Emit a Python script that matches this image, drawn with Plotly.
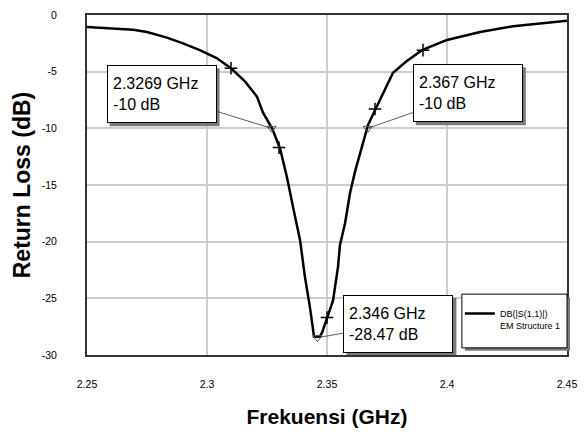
import plotly.graph_objects as go

# ---- data ----
freq_ghz = [2.2500, 2.2600, 2.2692, 2.2750, 2.2833, 2.2900, 2.2970, 2.3040, 2.3100,
            2.3160, 2.3208, 2.3233, 2.3271, 2.3304, 2.3333, 2.3358, 2.3388, 2.3408,
            2.3429, 2.3446, 2.3470, 2.3480, 2.3500, 2.3525, 2.3546, 2.3554, 2.3575,
            2.3596, 2.3617, 2.3638, 2.3671, 2.3700, 2.3721, 2.3775, 2.3830, 2.3896,
            2.4000, 2.4138, 2.4275, 2.4500]
s11_db = [-1.05, -1.15, -1.3, -1.5, -2.0, -2.5, -3.1, -3.8, -4.7,
          -5.9, -7.2, -8.6, -10.0, -11.75, -14.3, -16.9, -19.9, -23.1,
          -25.8, -28.4, -28.4, -28.0, -26.7, -25.2, -22.2, -20.3, -18.4,
          -15.7, -13.8, -12.2, -9.7, -8.4, -7.5, -5.1, -4.1, -3.1,
          -2.2, -1.5, -1.0, -0.5]

sample_freq = [2.31, 2.33, 2.35, 2.37, 2.39]
sample_db = [-4.7, -11.7, -26.7, -8.3, -3.1]

marker_freq = [2.3269, 2.367, 2.346]
marker_db = [-10.0, -10.0, -28.47]
marker_text = ["2.3269 GHz<br>-10 dB", "2.367 GHz<br>-10 dB", "2.346 GHz<br>-28.47 dB"]

x_tickvals = [2.25, 2.3, 2.35, 2.4, 2.45]
x_ticktext = ["2.25", "2.3", "2.35", "2.4", "2.45"]
y_tickvals = [0, -5, -10, -15, -20, -25, -30]
y_ticktext = ["0", "-5", "-10", "-15", "-20", "-25", "-30"]

series_name = "DB(|S(1,1)|)<br>EM Structure 1"

SANS = "Liberation Sans, Arial, sans-serif"

fig = go.Figure()
fig.add_trace(go.Scatter(x=freq_ghz, y=s11_db, mode="lines",
                         line=dict(color="black", width=2.5),
                         name=series_name, showlegend=True))
fig.add_trace(go.Scatter(x=sample_freq, y=sample_db, mode="markers",
                         marker=dict(symbol="cross-thin", size=9,
                                     line=dict(color="black", width=1.5)),
                         showlegend=False, hoverinfo="skip"))
fig.add_trace(go.Scatter(x=marker_freq, y=marker_db, mode="markers",
                         marker=dict(symbol="triangle-down-open", size=8, color="#555",
                                     line=dict(width=1)),
                         showlegend=False, hoverinfo="skip"))

BOX_W, BOX_H, PAD = 98, 46, 5
FULL_W, FULL_H = BOX_W + 2 * PAD + 2, BOX_H + 2 * PAD + 2
offsets = [(-110, -34), (100, -35), (81, -14)]
for fx, fy, txt, (ax, ay) in zip(marker_freq, marker_db, marker_text, offsets):
    # drop shadow, sized to the box, placed in pixels relative to the marked point
    fig.add_shape(type="rect", xref="x", yref="y", xsizemode="pixel", ysizemode="pixel",
                  xanchor=fx, yanchor=fy,
                  x0=ax - FULL_W / 2 + 3, x1=ax + FULL_W / 2 + 3,
                  y0=-(ay + FULL_H / 2) - 3, y1=-(ay - FULL_H / 2) - 3,
                  fillcolor="#7a7a7a", line=dict(width=0), layer="above")
    fig.add_annotation(x=fx, y=fy, text=txt, showarrow=True, ax=ax, ay=ay,
                       width=BOX_W, height=BOX_H, align="left", valign="middle",
                       arrowhead=0, arrowwidth=0.8, arrowcolor="#333",
                       font=dict(family=SANS, size=16, color="black"),
                       bgcolor="white", bordercolor="black", borderwidth=1, borderpad=PAD)

# legend frame (paper coords relative to the plot area) with drop shadow
LX0, LX1, LY0, LY1 = 0.781, 1.0, 0.021, 0.179
fig.add_shape(type="rect", xref="paper", yref="paper",
              x0=LX0 + 3 / 480, x1=LX1 + 3 / 480, y0=LY0 - 3 / 340, y1=LY1 - 3 / 340,
              fillcolor="#7a7a7a", line=dict(width=0), layer="above")
fig.add_shape(type="rect", xref="paper", yref="paper",
              x0=LX0, x1=LX1, y0=LY0, y1=LY1,
              fillcolor="white", line=dict(color="black", width=1), layer="above")

fig.update_layout(
    width=578, height=424,
    margin=dict(l=79, r=19, t=7, b=77),
    paper_bgcolor="white", plot_bgcolor="white",
    showlegend=True,
    legend=dict(x=LX0 - 2 / 480, xanchor="left", y=LY1 - 7 / 340, yanchor="top",
                bgcolor="rgba(0,0,0,0)", borderwidth=0, valign="top",
                font=dict(family=SANS, size=9, color="black"),
                itemwidth=30, tracegroupgap=0),
    xaxis=dict(range=[2.25, 2.45], tickvals=x_tickvals, ticktext=x_ticktext,
               showgrid=True, gridcolor="#cccccc", gridwidth=1.5,
               showline=True, linecolor="#333", linewidth=2, mirror=True,
               zeroline=False, ticks="", ticklabelstandoff=18, automargin=False,
               tickfont=dict(family=SANS, size=10.5, color="black"),
               title=dict(text="Frekuensi (GHz)", standoff=21,
                          font=dict(family=SANS, size=21, color="black", weight="bold"))),
    yaxis=dict(range=[-30, 0], tickvals=y_tickvals, ticktext=y_ticktext,
               showgrid=True, gridcolor="#cccccc", gridwidth=1.5,
               showline=True, linecolor="#333", linewidth=2, mirror=True,
               zeroline=False, ticks="", ticklabelstandoff=26, automargin=False,
               tickfont=dict(family=SANS, size=10.5, color="black"),
               title=dict(text="Return Loss (dB)", standoff=5,
                          font=dict(family=SANS, size=23, color="black", weight="bold"))),
)

fig.write_html("out.html")
